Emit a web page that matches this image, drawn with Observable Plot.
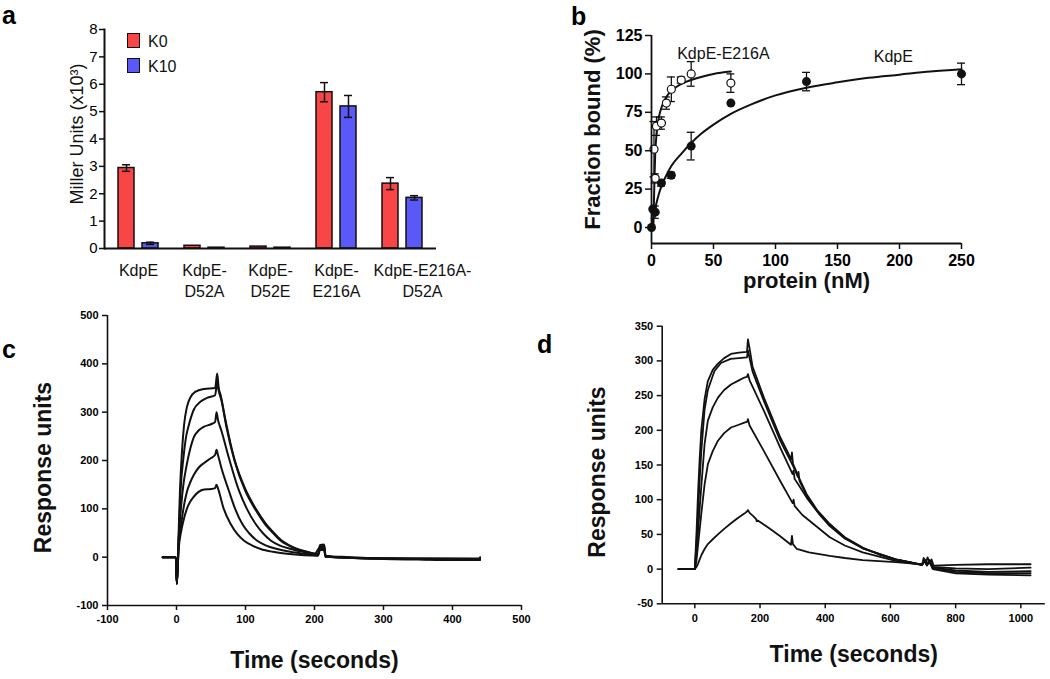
<!DOCTYPE html>
<html><head><meta charset="utf-8">
<script src="https://cdn.jsdelivr.net/npm/d3@7"></script>
<script src="https://cdn.jsdelivr.net/npm/@observablehq/plot@0.6"></script>
<style>
body{margin:0;background:#fff;font-family:"Liberation Sans",Arial,Helvetica,sans-serif;}
#root{position:relative;width:1050px;height:679px;overflow:hidden;background:#fff;}
.panel{position:absolute;}
.plabel{position:absolute;font-weight:bold;font-size:25px;line-height:1.15;color:#000;}
.leg{position:absolute;font-size:16px;line-height:1;color:#111;}
.sw{position:absolute;width:13px;height:15px;border:1.5px solid #111;box-sizing:border-box;}
</style></head><body><div id="root"></div>
<script>
// ---------- Panel a data ----------
const aCategories = ["KdpE","KdpE-D52A","KdpE-D52E","KdpE-E216A","KdpE-E216A-D52A"];
const aLabels = ["KdpE","KdpE-\nD52A","KdpE-\nD52E","KdpE-\nE216A","KdpE-E216A-\nD52A"];
const aK0 = [2.94, 0.10, 0.07, 5.71, 2.37];
const aK0err = [0.12, 0.02, 0.01, 0.35, 0.22];
const aK10 = [0.19, 0.03, 0.03, 5.19, 1.85];
const aK10err = [0.04, 0.0, 0.0, 0.40, 0.08];
const aTicks = [0,1,2,3,4,5,6,7,8];
const aSeries = ["K0","K10"];

// ---------- Panel b data ----------
const bE216A_x = [2, 3, 4, 8, 12, 16, 24, 32, 64];
const bE216A_y = [51, 32, 66, 68, 81, 90, 96, 100, 94];
const bE216A_e = [18, 3, 6, 4, 4, 8, 2, 8, 6];
const bKdpE_x = [0, 1, 3, 8, 16, 32, 64, 125, 250];
const bKdpE_y = [0, 12, 10, 29, 34, 53, 81, 95, 100];
const bKdpE_e = [0, 0, 4, 2, 2, 9, 0, 6, 7];
const bFitE216A = [[1.5,0],[2,18],[2.5,35],[3,48],[4,60],[5,67],[6,72],[8,78],[10,82],[12,85],[16,89],[20,91.5],[24,93.5],[32,96],[40,98],[50,100],[64,101.5]];
const bFitKdpE = [[0,0],[1,5],[2,9],[4,16],[6,22],[8,27],[12,34],[16,40],[24,48],[32,55],[40,61],[50,67],[64,74],[80,80],[100,86],[125,91],[150,94.5],[175,97.5],[200,99.5],[225,101.5],[250,103]];
const bXTicks = [0,50,100,150,200,250];
const bYTicks = [0,25,50,75,100,125];
const bAnnot = [{label:"KdpE-E216A", x:58, y:113},{label:"KdpE", x:195, y:111}];

// ---------- Panel c data ----------
const cCurve1 = [[-20,0],[-1,0],[0.5,-55],[2,0],[5,137],[8,220],[11,274],[15,310],[20,330],[27,342],[40,348],[56,350],[59,380],[61,352],[64,335],[71.5,280],[83.5,205],[100,140],[115,100],[129,70],[140,52],[151,36],[163,25],[175,17],[190,11],[205,6],[208,25],[214,26],[216,3],[250,0],[300,-3],[350,-4],[400,-5],[439,-5],[440,0]];
const cCurve2 = [[-20,0],[-1,0],[0.5,-55],[3,30],[6,140],[10,205],[14,250],[18,274],[25,305],[35,322],[45,330],[56,335],[59,362],[61,345],[65,325],[72,272],[84,200],[100,136],[115,97],[129,67],[140,50],[151,34],[163,24],[175,16],[190,10],[205,5],[208,22],[214,23],[216,2],[250,-1],[300,-4],[350,-5],[400,-6],[440,-6]];
const cCurve3 = [[-20,0],[-1,0],[0.5,-55],[3,30],[7,110],[10,150],[14,185],[20,225],[25,248],[32,262],[40,270],[50,275],[56,280],[58,300],[60,285],[65,262],[76,205],[90.7,137],[102,100],[115,68],[125,50],[137,34],[150,24],[166,17],[183,11],[200,7],[208,20],[214,20],[216,2],[250,-1],[300,-3],[350,-4],[440,-5]];
const cCurve4 = [[-20,0],[-1,0],[0.5,-55],[3,20],[7,70],[10,100],[15,135],[20,155],[25,170],[32,185],[40,195],[50,205],[56,212],[58,222],[60,212],[65,185],[76,137],[85,100],[95.6,68],[105,50],[117,34],[130,24],[146,17],[165,11],[185,7],[205,4],[208,18],[214,18],[216,1],[300,-3],[440,-4]];
const cCurve5 = [[-20,0],[-1,0],[0.5,-55],[3,15],[7,55],[10,75],[15,100],[20,115],[25,125],[32,135],[40,140],[50,141],[56,143],[58,150],[60,143],[68,102],[78.7,68],[88,48],[98,34],[110,24],[122,17],[140,11],[160,7],[185,4],[205,3],[208,15],[214,15],[216,1],[300,-2],[440,-3]];
const cTicks = [-100,0,100,200,300,400,500];

// ---------- Panel d data ----------
const dCurve1 = [[-50,0],[0,0],[5,50],[10,110],[15,160],[20,200],[30,245],[40,271],[55,287],[71,296],[90,304],[111,310],[135,312],[160,313],[163,331],[168,318],[177,292],[212,247],[262,190],[296,158],[298,168],[301,152],[320,131],[343,108],[375,85],[414,65],[460,46],[515,31],[565,21],[616,14],[660,10],[697,6],[702,16],[708,8],[714,17],[720,9],[726,14],[732,5],[800,6],[900,7],[1030,7]];
const dCurve2 = [[-50,0],[0,0],[5,35],[10,80],[15,130],[20,170],[30,230],[40,258],[60,285],[80,297],[110,303],[160,305],[163,315],[168,304],[177,285],[212,242],[262,185],[300,150],[316,133],[318,140],[321,127],[343,106],[375,84],[414,64],[460,45],[515,30],[616,14],[697,6],[705,14],[712,7],[720,13],[730,3],[800,1],[900,0],[1030,2]];
const dCurve3 = [[-50,0],[0,0],[5,20],[10,55],[20,120],[30,180],[40,214],[55,233],[71,247],[90,258],[111,266],[135,272],[152,276],[160,277],[163,281],[168,272],[175,265],[212,228],[262,175],[300,137],[303,142],[306,130],[320,120],[343,103],[380,80],[414,62],[460,44],[515,30],[616,14],[697,6],[705,12],[712,5],[720,11],[730,2],[800,-2],[900,-4],[1030,-3]];
const dCurve4 = [[-50,0],[0,0],[5,12],[10,35],[20,80],[30,122],[40,151],[55,170],[71,185],[90,196],[111,204],[135,208],[152,211],[160,212],[163,216],[168,207],[212,170],[262,127],[300,95],[303,100],[306,91],[330,78],[364,65],[414,46],[460,34],[515,24],[616,12],[697,6],[705,13],[712,6],[720,12],[730,1],[800,-4],[900,-6],[1030,-6]];
const dCurve5 = [[-50,0],[0,0],[5,3],[10,8],[20,20],[30,29],[40,36],[55,43],[71,50],[90,58],[111,66],[130,73],[152,80],[160,83],[163,85],[168,81],[180,76],[188,72],[190,69],[193,70],[225,60],[260,48],[295,35],[298,48],[301,36],[313,29],[350,24],[414,19],[460,16],[515,13],[616,10],[697,7],[705,13],[712,6],[720,10],[730,0],[800,-6],[900,-8],[1030,-9]];
const dXTicks = [0,200,400,600,800,1000];
const dYTicks = [-50,0,50,100,150,200,250,300,350];

// ---------- helpers ----------
const FONT = '"Liberation Sans", Arial, Helvetica, sans-serif';
const RED = "#f84545", BLUE = "#5a58f6";
const root = document.getElementById("root");
function place(el, left, top){ const d=document.createElement("div"); d.className="panel"; d.style.left=left+"px"; d.style.top=top+"px"; d.appendChild(el); root.appendChild(d); return d; }
function html(cls, text, left, top, extra){ const d=document.createElement("div"); d.className=cls; if(text) d.textContent=text; d.style.left=left+"px"; d.style.top=top+"px"; if(extra) Object.assign(d.style, extra); root.appendChild(d); return d; }
const baseStyle = {fontFamily: FONT, background: "transparent", overflow: "visible", color: "#000"};
const num = d => String(d);

// ---------- Panel a ----------
const aRows = aCategories.map((c,i)=>({cat:c, label:aLabels[i], k0:aK0[i], k0e:aK0err[i], k10:aK10[i], k10e:aK10err[i]}));
const aErr0 = aRows.filter(d=>d.k0e>0.03), aErr1 = aRows.filter(d=>d.k10e>0.03);
const plotA = Plot.plot({
  width:470, height:300, marginLeft:104, marginRight:34, marginTop:29, marginBottom:52,
  style: baseStyle,
  x:{domain:aCategories, padding:0, axis:null},
  y:{domain:[0,8], axis:null},
  marks:[
    Plot.barY(aRows,{x:"cat", y:"k0", fill:RED, stroke:"#111", strokeWidth:1.5, dx:-12, insetLeft:25, insetRight:25}),
    Plot.barY(aRows,{x:"cat", y:"k10", fill:BLUE, stroke:"#111", strokeWidth:1.5, dx:12, insetLeft:25, insetRight:25}),
    Plot.ruleX(aErr0,{x:"cat", y1:d=>d.k0-d.k0e, y2:d=>d.k0+d.k0e, dx:-12, stroke:"#111", strokeWidth:1.5}),
    Plot.tickY(aErr0,{x:"cat", y:d=>d.k0+d.k0e, dx:-12, insetLeft:29, insetRight:29, stroke:"#111", strokeWidth:1.5}),
    Plot.tickY(aErr0,{x:"cat", y:d=>d.k0-d.k0e, dx:-12, insetLeft:29, insetRight:29, stroke:"#111", strokeWidth:1.5}),
    Plot.ruleX(aErr1,{x:"cat", y1:d=>d.k10-d.k10e, y2:d=>d.k10+d.k10e, dx:12, stroke:"#111", strokeWidth:1.5}),
    Plot.tickY(aErr1,{x:"cat", y:d=>d.k10+d.k10e, dx:12, insetLeft:29, insetRight:29, stroke:"#111", strokeWidth:1.5}),
    Plot.tickY(aErr1,{x:"cat", y:d=>d.k10-d.k10e, dx:12, insetLeft:29, insetRight:29, stroke:"#111", strokeWidth:1.5}),
    Plot.ruleY([0],{stroke:"#111", strokeWidth:2}),
    Plot.frame({anchor:"left", stroke:"#111", strokeWidth:2}),
    Plot.axisY({ticks:aTicks, tickSize:5, tickPadding:2, fontSize:15, label:null, tickFormat:num, stroke:"#111", strokeWidth:1.5}),
    Plot.text(aRows.slice(0,4),{x:"cat", text:"label", frameAnchor:"bottom", lineAnchor:"top", dy:13, fontSize:16, lineHeight:1.3, fill:"#111"}),
    Plot.text(aRows.slice(4),{x:"cat", text:"label", frameAnchor:"bottom", lineAnchor:"top", dy:13, dx:20, fontSize:16, lineHeight:1.3, fill:"#111"}),
    Plot.text(["Miller Units (x10³)"],{frameAnchor:"left", textAnchor:"middle", rotate:-90, dx:-27, dy:-5, fontSize:18, fill:"#111"})
  ]
});
place(plotA, 0, 0);
html("sw", "", 127, 33, {background:RED});
html("sw", "", 127, 58, {background:BLUE});
html("leg", aSeries[0], 148, 34);
html("leg", aSeries[1], 148, 59);

// ---------- Panel b ----------
const bE = bE216A_x.map((x,i)=>({x, y:bE216A_y[i], e:bE216A_e[i]}));
const bK = bKdpE_x.map((x,i)=>({x, y:bKdpE_y[i], e:bKdpE_e[i]}));
const bErr = bE.concat(bK).filter(d=>d.e>0);
const plotB = Plot.plot({
  width:490, height:300, marginLeft:91, marginRight:89, marginTop:35, marginBottom:57,
  style: baseStyle,
  x:{domain:[0,250], axis:null},
  y:{domain:[-10.4,125], axis:null},
  marks:[
    Plot.ruleX(bErr,{x:"x", y1:d=>d.y-d.e, y2:d=>d.y+d.e, stroke:"#111", strokeWidth:1.3}),
    Plot.ruleY(bErr,{y:d=>d.y+d.e, x1:"x", x2:"x", insetLeft:-4, insetRight:-4, stroke:"#111", strokeWidth:1.3}),
    Plot.ruleY(bErr,{y:d=>d.y-d.e, x1:"x", x2:"x", insetLeft:-4, insetRight:-4, stroke:"#111", strokeWidth:1.3}),
    Plot.line(bFitE216A,{x:d=>d[0], y:d=>d[1], stroke:"#111", strokeWidth:2, curve:"monotone-x"}),
    Plot.line(bFitKdpE,{x:d=>d[0], y:d=>d[1], stroke:"#111", strokeWidth:2, curve:"monotone-x"}),
    Plot.dot(bK,{x:"x", y:"y", r:4.5, fill:"#111"}),
    Plot.dot(bE,{x:"x", y:"y", r:4, fill:"white", stroke:"#111", strokeWidth:1.2}),
    Plot.ruleX([0],{y1:-10.4, y2:125, stroke:"#111", strokeWidth:1.8}),
    Plot.ruleY([-10.4],{x1:0, x2:250, stroke:"#111", strokeWidth:1.8}),
    Plot.axisX({ticks:bXTicks, tickSize:6, tickPadding:5, fontSize:16, fontWeight:"bold", label:null, tickFormat:num, stroke:"#111", strokeWidth:1.5}),
    Plot.axisY({ticks:bYTicks, tickSize:6, tickPadding:3, fontSize:16, fontWeight:"bold", label:null, tickFormat:num, stroke:"#111", strokeWidth:1.5}),
    Plot.text(bAnnot,{x:"x", y:"y", text:"label", fontSize:16, fill:"#111"}),
    Plot.text(["protein (nM)"],{frameAnchor:"bottom", dy:44, fontSize:22, fontWeight:"bold", fill:"#111"}),
    Plot.text(["Fraction bound (%)"],{frameAnchor:"left", textAnchor:"middle", rotate:-90, dx:-59, dy:-10, fontSize:22, fontWeight:"bold", fill:"#111"})
  ]
});
place(plotB, 560, 0);

// ---------- Panel c ----------
const cCurves = [cCurve1,cCurve2,cCurve3,cCurve4,cCurve5];
const cData = cCurves.flatMap((c,k)=>c.map(([t,y])=>({t,y,k})));
const plotC = Plot.plot({
  width:525, height:389, marginLeft:107, marginRight:4, marginTop:25, marginBottom:74,
  style: baseStyle,
  x:{domain:[-100,500], axis:null},
  y:{domain:[-100,500], axis:null},
  marks:[
    Plot.line(cData,{x:"t", y:"y", z:"k", stroke:"#111", strokeWidth:2, curve:"monotone-x"}),
    Plot.ruleX([-100],{y1:-100, y2:500, stroke:"#111", strokeWidth:1.6}),
    Plot.ruleY([-100],{x1:-100, x2:500, stroke:"#111", strokeWidth:1.6}),
    Plot.axisX({ticks:cTicks, tickSize:5, tickPadding:5, fontSize:11, fontWeight:"bold", label:null, tickFormat:num, stroke:"#111", strokeWidth:1.5}),
    Plot.axisY({ticks:cTicks, tickSize:5, tickPadding:4, fontSize:11, fontWeight:"bold", label:null, tickFormat:num, stroke:"#111", strokeWidth:1.5}),
    Plot.text(["Time (seconds)"],{frameAnchor:"bottom", dy:62, fontSize:23, fontWeight:"bold", fill:"#111"}),
    Plot.text(["Response units"],{frameAnchor:"left", textAnchor:"middle", rotate:-90, dx:-64, dy:7, fontSize:23, fontWeight:"bold", fill:"#111"})
  ]
});
place(plotC, 0, 290);

// ---------- Panel d ----------
const dCurves = [dCurve1,dCurve2,dCurve3,dCurve4,dCurve5];
const dData = dCurves.flatMap((c,k)=>c.map(([t,y])=>({t,y,k})));
const plotD = Plot.plot({
  width:525, height:389, marginLeft:136.7, marginRight:5.2, marginTop:35.7, marginBottom:75.7,
  style: baseStyle,
  x:{domain:[-100,1075], axis:null},
  y:{domain:[-50,350], axis:null},
  marks:[
    Plot.line(dData,{x:"t", y:"y", z:"k", stroke:"#111", strokeWidth:1.8}),
    Plot.ruleX([-100],{y1:-50, y2:350, stroke:"#111", strokeWidth:1.6}),
    Plot.ruleY([-50],{x1:-100, x2:1075, stroke:"#111", strokeWidth:1.6}),
    Plot.axisX({ticks:dXTicks, tickSize:5, tickPadding:5, fontSize:11, fontWeight:"bold", label:null, tickFormat:num, stroke:"#111", strokeWidth:1.5}),
    Plot.axisY({ticks:dYTicks, tickSize:5, tickPadding:4, fontSize:11, fontWeight:"bold", label:null, tickFormat:num, stroke:"#111", strokeWidth:1.5}),
    Plot.text(["Time (seconds)"],{frameAnchor:"bottom", dy:58, fontSize:23, fontWeight:"bold", fill:"#111"}),
    Plot.text(["Response units"],{frameAnchor:"left", textAnchor:"middle", rotate:-90, dx:-65, dy:7, fontSize:23, fontWeight:"bold", fill:"#111"})
  ]
});
place(plotD, 525, 290);

// ---------- panel letters ----------
html("plabel","a",2,1);
html("plabel","b",571,2);
html("plabel","c",2,335);
html("plabel","d",537,330);
</script></body></html>
